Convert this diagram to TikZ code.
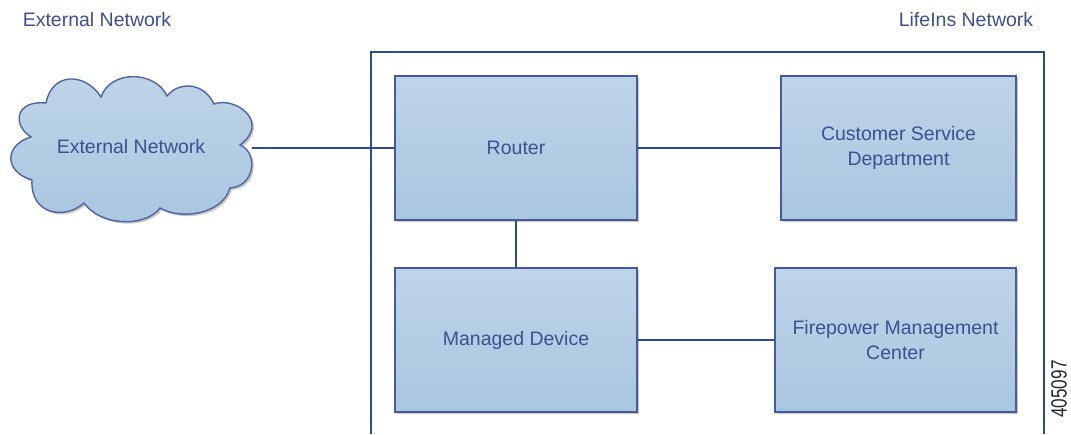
\documentclass[tikz,border=0pt]{standalone}
\usepackage{fontspec}
\setmainfont{Liberation Sans}
\usetikzlibrary{shadows}
\definecolor{linec}{HTML}{2F4A92}
\definecolor{textc}{HTML}{3D4F8F}
\definecolor{filltop}{HTML}{BFD4E8}
\definecolor{fillbot}{HTML}{A9C6E0}
\tikzset{
  x=1pt,y=-1pt,
  txt/.style={text=textc,font=\fontsize{19.5}{25}\selectfont,align=center,inner sep=0pt},
  conn/.style={draw=linec,line width=1.5pt},
  softshadow/.style={drop shadow={shadow xshift=2pt,shadow yshift=-2pt,fill=black,opacity=.22}},
  boxn/.style={txt,draw=linec!90!white,line width=1.5pt,top color=filltop,bottom color=fillbot,softshadow,anchor=center,minimum width=#1,minimum height=144pt},
  cloudn/.style={txt,minimum width=241pt,minimum height=145pt},
}
\begin{document}
\begin{tikzpicture}
\useasboundingbox (0,0) rectangle (1071,434);
% frame of the LifeIns Network, open at the bottom edge
\draw[conn] (371,434) -- (371,52) -- (1044,52) -- (1044,434);
% cloud
\path[draw=linec!85!white,line width=1.4pt,top color=filltop,bottom color=fillbot,softshadow]
  (101,97) .. controls (110,70) and (155,70) .. (167,96)
  .. controls (178,82) and (203,81) .. (214,104)
  .. controls (235,96) and (271,122) .. (240,145)
  .. controls (258,152) and (256,186) .. (230,188)
  .. controls (222,215) and (180,220) .. (160,208)
  .. controls (145,228) and (100,226) .. (84,203)
  .. controls (65,220) and (30,215) .. (32,180)
  .. controls (4,172) and (4,145) .. (31,137)
  .. controls (12,125) and (15,100) .. (46,103)
  .. controls (52,72) and (85,72) .. (101,97) -- cycle;
\node[cloudn] (cloud) at (131,147) {External Network};
% boxes
\node[boxn=242pt] (router) at (516,148) {Router};
\node[boxn=235pt] (csd) at (898.5,148) {Customer Service\\Department};
\node[boxn=242pt] (managed) at (516,340) {Managed Device};
\node[boxn=241pt] (fmc) at (895.5,340) {Firepower Management\\Center};
% connectors
\draw[conn] (cloud.east |- router) -- (router);
\draw[conn] (router) -- (csd);
\draw[conn] (router) -- (managed);
\draw[conn] (managed) -- (fmc);
% labels
\node[txt] (extlabel) at (97,20) {External Network};
\node[txt] (lifelabel) at (966,20) {LifeIns Network};
\node[inner sep=0pt,text=black!85,rotate=90] (fig) at (1059,389) {\scalebox{.78}[1]{\fontsize{22}{22}\selectfont 405097}};
\end{tikzpicture}
\end{document}
